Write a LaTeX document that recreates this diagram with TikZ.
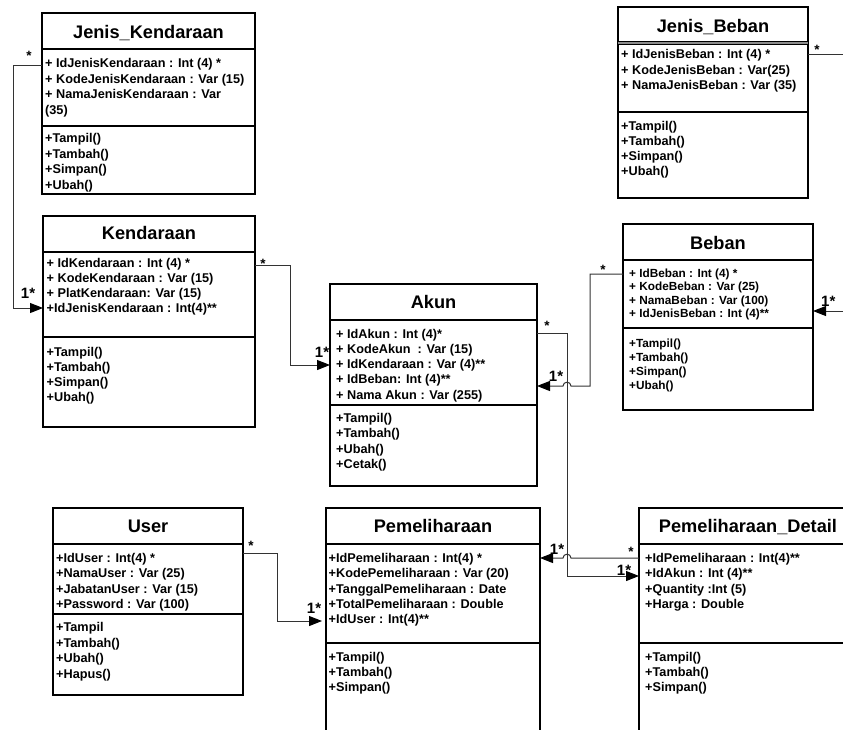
\documentclass[tikz,border=0pt]{standalone}
\usepackage{fontspec}
\setmainfont{Liberation Sans}
\newfontfamily\umlfont{Liberation Sans}
\newfontfamily\umltitlefont{Liberation Sans}
\usetikzlibrary{arrows.meta}
\tikzset{
  classbox/.style={draw=black, line width=1.2pt, fill=white, anchor=north west, inner sep=0pt, outer sep=0pt},
  sepline/.style={draw=black, line width=1.2pt},
  ctitle/.style={font=\umltitlefont\bfseries\fontsize{18.2}{20}\selectfont, anchor=base, inner sep=0pt},
  attr/.style={font=\umlfont\bfseries\fontsize{12.7}{14}\selectfont, anchor=base west, inner sep=0pt},
  sattr/.style={font=\umlfont\bfseries\fontsize{11.8}{13}\selectfont, anchor=base west, inner sep=0pt},
  conn/.style={draw=black!80, line width=1pt},
  arr/.style={conn, -{Triangle[length=13pt,width=10pt,color=black]}},
  mult/.style={font=\umlfont\bfseries\fontsize{13.5}{15}\selectfont, anchor=base, inner sep=0pt},
  multone/.style={font=\umlfont\bfseries\fontsize{15}{16}\selectfont, anchor=base, inner sep=0pt},
}
\newcommand{\umlrows}[6]{%
  \foreach \rowtxt [count=\ri] in {#6} {\node[#1] (#2\ri) at (#3,{#4+#5*(\ri-1)}) {\rowtxt};}}
\begin{document}
\begin{tikzpicture}[x=1pt,y=-1pt]
\useasboundingbox (0,0) rectangle (843,729);
\fill[white] (0,0) rectangle (843,729);
\clip (0,0) rectangle (843,729);

% ---------- Jenis_Kendaraan ----------
\node[classbox, minimum width=213pt, minimum height=181pt] (jk) at (42,13) {};
\draw[sepline] (jk.west |- 0,49) -- (jk.east |- 0,49);
\draw[sepline] (jk.west |- 0,126) -- (jk.east |- 0,126);
\node[ctitle] (jkt) at (148.5,38) {Jenis\_Kendaraan};
\umlrows{attr}{jka}{45}{67.5}{15.5}{{+ IdJenisKendaraan : Int (4) *},{+ KodeJenisKendaraan : Var (15)},{+ NamaJenisKendaraan : Var},{(35)}}
\umlrows{attr}{jkm}{45}{142.5}{15.5}{{+Tampil()},{+Tambah()},{+Simpan()},{+Ubah()}}

% ---------- Jenis_Beban ----------
\node[classbox, minimum width=190pt, minimum height=191pt] (jb) at (618,7) {};
\fill[black!45] (jb.west |- 0,41.5) rectangle (jb.east |- 0,44.5);
\draw[line width=0.9pt] (jb.west |- 0,41.5) -- (jb.east |- 0,41.5);
\draw[line width=0.9pt] (jb.west |- 0,44.5) -- (jb.east |- 0,44.5);
\draw[sepline] (jb.west |- 0,112) -- (jb.east |- 0,112);
\node[ctitle] (jbt) at (713,32) {Jenis\_Beban};
\umlrows{attr}{jba}{621}{58.5}{15.5}{{+ IdJenisBeban : Int (4) *},{+ KodeJenisBeban : Var(25)},{+ NamaJenisBeban : Var (35)}}
\umlrows{attr}{jbm}{621}{130.5}{15}{{+Tampil()},{+Tambah()},{+Simpan()},{+Ubah()}}

% ---------- Kendaraan ----------
\node[classbox, minimum width=212pt, minimum height=211pt] (kd) at (43,216) {};
\draw[sepline] (kd.west |- 0,252) -- (kd.east |- 0,252);
\draw[sepline] (kd.west |- 0,337) -- (kd.east |- 0,337);
\node[ctitle] (kdt) at (149,239) {Kendaraan};
\umlrows{attr}{kda}{46.5}{267.5}{15}{{+ IdKendaraan : Int (4) *},{+ KodeKendaraan : Var (15)},{+ PlatKendaraan: Var (15)},{+IdJenisKendaraan : Int(4)**}}
\umlrows{attr}{kdm}{46.5}{356.5}{15}{{+Tampil()},{+Tambah()},{+Simpan()},{+Ubah()}}

% ---------- Akun ----------
\node[classbox, minimum width=207pt, minimum height=202pt] (ak) at (330,284) {};
\draw[sepline] (ak.west |- 0,320) -- (ak.east |- 0,320);
\draw[sepline] (ak.west |- 0,405) -- (ak.east |- 0,405);
\node[ctitle] (akt) at (433.5,308) {Akun};
\umlrows{attr}{aka}{336}{338}{15.25}{{+ IdAkun : Int (4)*},{+ KodeAkun~ : Var (15)},{+ IdKendaraan : Var (4)**},{+ IdBeban: Int (4)**},{+ Nama Akun : Var (255)}}
\umlrows{attr}{akm}{336}{422.5}{15.3}{{+Tampil()},{+Tambah()},{+Ubah()},{+Cetak()}}

% ---------- Beban ----------
\node[classbox, minimum width=190pt, minimum height=186pt] (bb) at (623,224) {};
\draw[sepline] (bb.west |- 0,260) -- (bb.east |- 0,260);
\draw[sepline] (bb.west |- 0,328) -- (bb.east |- 0,328);
\node[ctitle] (bbt) at (718,249.5) {Beban};
\umlrows{sattr}{bba}{629}{277.5}{13.3}{{+ IdBeban : Int (4) *},{+ KodeBeban : Var (25)},{+ NamaBeban : Var (100)},{+ IdJenisBeban : Int (4)**}}
\umlrows{sattr}{bbm}{629}{347.5}{14}{{+Tampil()},{+Tambah()},{+Simpan()},{+Ubah()}}

% ---------- User ----------
\node[classbox, minimum width=190pt, minimum height=187pt] (us) at (53,508) {};
\draw[sepline] (us.west |- 0,544) -- (us.east |- 0,544);
\draw[sepline] (us.west |- 0,614) -- (us.east |- 0,614);
\node[ctitle] (ust) at (148,532.5) {User};
\umlrows{attr}{usa}{56}{562.5}{15.3}{{+IdUser : Int(4) *},{+NamaUser : Var (25)},{+JabatanUser : Var (15)},{+Password : Var (100)}}
\umlrows{attr}{usm}{56}{631.5}{15.6}{{+Tampil},{+Tambah()},{+Ubah()},{+Hapus()}}

% ---------- Pemeliharaan ----------
\node[classbox, minimum width=214pt, minimum height=260pt] (pm) at (326,508) {};
\draw[sepline] (pm.west |- 0,544) -- (pm.east |- 0,544);
\draw[sepline] (pm.west |- 0,643) -- (pm.east |- 0,643);
\node[ctitle] (pmt) at (433,532.5) {Pemeliharaan};
\umlrows{attr}{pma}{328.5}{562.5}{15.3}{{+IdPemeliharaan : Int(4) *},{+KodePemeliharaan : Var (20)},{+TanggalPemeliharaan : Date},{+TotalPemeliharaan : Double},{+IdUser : Int(4)**}}
\umlrows{attr}{pmm}{328.5}{661.5}{15}{{+Tampil()},{+Tambah()},{+Simpan()}}

% ---------- Pemeliharaan_Detail ----------
\node[classbox, minimum width=218pt, minimum height=260pt] (pd) at (639,508) {};
\draw[sepline] (pd.west |- 0,544) -- (pd.east |- 0,544);
\draw[sepline] (pd.west |- 0,643) -- (pd.east |- 0,643);
\node[ctitle] (pdt) at (748,532.5) {Pemeliharaan\_Detail};
\umlrows{attr}{pda}{645}{562.5}{15.3}{{+IdPemeliharaan : Int(4)**},{+IdAkun : Int (4)**},{+Quantity :Int (5)},{+Harga : Double}}
\umlrows{attr}{pdm}{645}{661.5}{15}{{+Tampil()},{+Tambah()},{+Simpan()}}

% ---------- connectors ----------
\coordinate (jkbend1) at (13,65);
\coordinate (jkbend2) at (13,308);
\draw[arr] (jk.west |- 0,65) -- (jkbend1) -- (jkbend2) -- (kd.west |- 0,308);

\coordinate (kdbend1) at (290,265);
\coordinate (kdbend2) at (290,365);
\draw[arr] (kd.east |- 0,265) -- (kdbend1) -- (kdbend2) -- (ak.west |- 0,365);

\coordinate (jbbend1) at (870,54);
\coordinate (jbbend2) at (870,311);
\draw[arr] (jb.east |- 0,54) -- (jbbend1) -- (jbbend2) -- (bb.east |- 0,311);

\coordinate (bbbend1) at (590,274);
\coordinate (bbbend2) at (590,386);
\draw[arr] (bb.west |- 0,274) -- (bbbend1) -- (bbbend2) -- (571,386)
  .. controls (571,381) and (563,381) .. (563,386) -- (ak.east |- 0,386);

\coordinate (akbend1) at (567,333);
\coordinate (akbend2) at (567,576);
\draw[arr] (ak.east |- 0,333) -- (akbend1) -- (akbend2) -- (pd.west |- 0,576);

\draw[arr] (pd.west |- 0,558) -- (571,558)
  .. controls (571,553) and (563,553) .. (563,558) -- (pm.east |- 0,558);

\coordinate (usbend1) at (277,553);
\coordinate (usbend2) at (277,621);
\draw[arr, shorten >=4pt] (us.east |- 0,553) -- (usbend1) -- (usbend2) -- (pm.west |- 0,621);

% ---------- multiplicities ----------
\node[mult] (m1) at (29,60) {*};
\node[multone] (m2) at (28,298) {1*};
\node[mult] (m3) at (263,268) {*};
\node[multone] (m4) at (322,357) {1*};
\node[mult] (m5) at (547,330) {*};
\node[multone] (m6) at (556,381) {1*};
\node[mult] (m7) at (603,274) {*};
\node[mult] (m8) at (817,54) {*};
\node[multone, anchor=base west] (m9) at (821,306) {1*};
\node[mult] (m10) at (251,550) {*};
\node[multone] (m11) at (314,613) {1*};
\node[multone] (m12) at (557,554) {1*};
\node[mult] (m13) at (631,556) {*};
\node[multone] (m14) at (624,575) {1*};
\end{tikzpicture}
\end{document}
